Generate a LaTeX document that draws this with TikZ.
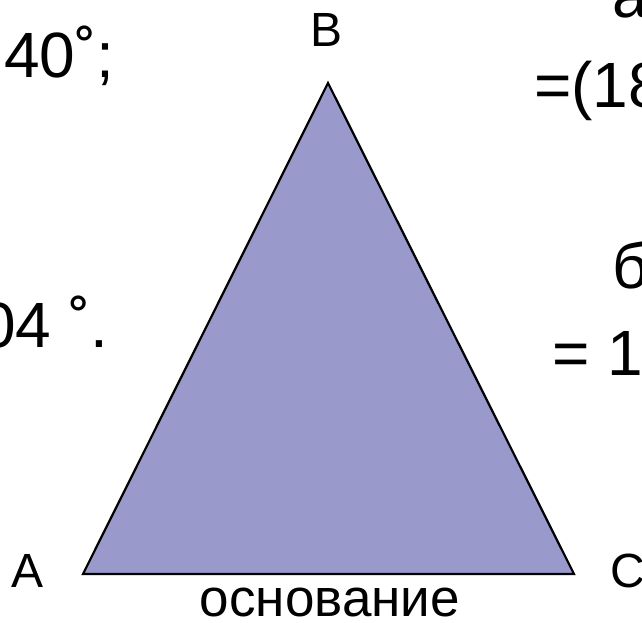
\documentclass[tikz,border=0pt]{standalone}
\usepackage{fontspec}
\setmainfont{Liberation Sans}
\usepackage{xcolor}
\usepackage{tikz}
\usetikzlibrary{calc, positioning}

\definecolor{triFill}{HTML}{9999CC}

\begin{document}
\begin{tikzpicture}[x=1pt, y=-1pt,
    vlabel/.style={font=\fontsize{48}{48}\selectfont, inner sep=0pt},
    bigtxt/.style={font=\fontsize{64}{64}\selectfont, inner sep=0pt, anchor=base west}]

    \useasboundingbox (0,0) rectangle (642,623);
    \clip (0,0) rectangle (642,623);

    % =================================================================
    % 1. ТРЕУГОЛЬНИК ABC
    % =================================================================
    \coordinate (vA) at (83,574);
    \coordinate (vB) at (328,83);
    \coordinate (vC) at (574,574);

    \draw[line width=2.2pt, line join=miter, fill=triFill] (vA) -- (vB) -- (vC) -- cycle;

    % Вершины
    \node[vlabel, anchor=base] (labB) at (326.5,47) {B};
    \node[vlabel, anchor=base] (labA) at (27.5,587) {A};
    \node[vlabel, anchor=base west] (labC) at (610.5,587) {C};

    % Основание
    \node[font=\fontsize{53}{53}\selectfont, inner sep=0pt, anchor=base] (osn) at (330,616) {основание};

    % =================================================================
    % 2. ТЕКСТ СЛЕВА И СПРАВА (обрезан краем)
    % =================================================================
    \node[bigtxt] (t40) at (4,78) {40˚;};
    \node[bigtxt] (t04) at (-20,347) {04 ˚.};

    \node[bigtxt] (ta) at (612,18) {а};
    \node[bigtxt] (t18) at (534,108) {=(18};
    \node[bigtxt] (tb) at (612,288) {б};
    \node[bigtxt] (t1) at (552,375) {= 1};

\end{tikzpicture}
\end{document}
